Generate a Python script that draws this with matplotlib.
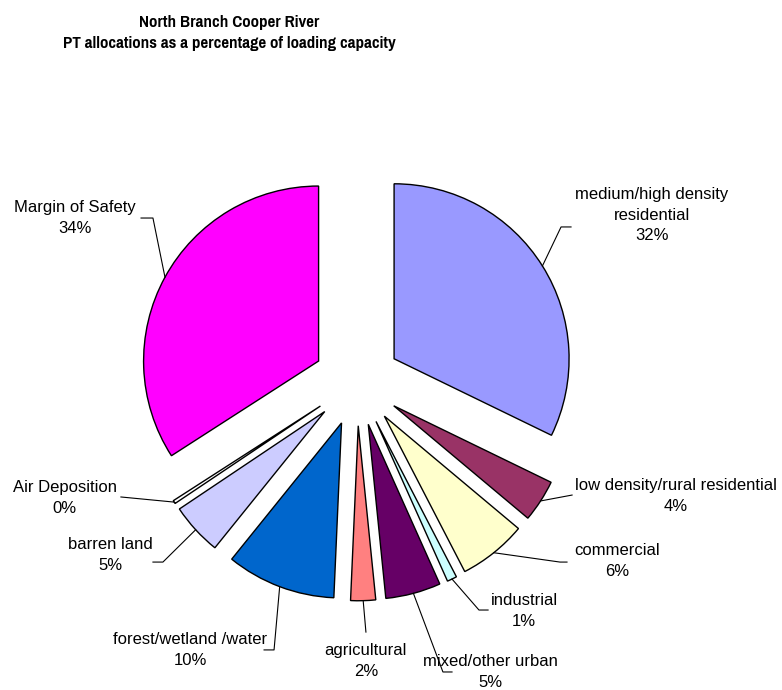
import numpy as np
from matplotlib import pyplot as plt

# PT allocations (% of loading capacity), clockwise from 12 o'clock
sources = ['medium/high density\nresidential', 'low density/rural residential',
           'commercial', 'industrial', 'mixed/other urban', 'agricultural',
           'forest/wetland /water', 'barren land', 'Air Deposition',
           'Margin of Safety']
percents = [32.2, 3.9, 6.3, 0.9, 5.1, 2.3, 10.1, 4.8, 0.3, 34.1]
colors = ['#9999FF', '#993366', '#FFFFCC', '#CCFFFF', '#660066', '#FF8080',
          '#0066CC', '#CCCCFF', '#FFFFFF', '#FF00FF']

# label placement (text centre, elbow, end of leader) in pie-radius units
text_pos = [(1.686, 0.954), (1.823, -0.651), (1.486, -1.023), (0.954, -1.309),
            (0.76, -1.657), (0.051, -1.594), (-0.954, -1.531), (-1.411, -0.989),
            (-1.669, -0.663), (-1.611, 0.937)]
elbow = [(1.166, 0.886), None, (1.16, -1.029), (0.697, -1.303), (0.491, -1.657),
         None, (-0.474, -1.531), (-1.109, -1.029), None, (-1.166, 0.937)]
leader_end = [(1.223, 0.886), (1.229, -0.646), (1.2, -1.029), (0.749, -1.303),
              (0.543, -1.657), (0.051, -1.429), (-0.531, -1.531), (-1.166, -1.029),
              (-1.349, -0.657), (-1.234, 0.937)]

plt.rcParams['font.family'] = ['Liberation Sans', 'DejaVu Sans']

fig = plt.figure(figsize=(7.82, 6.9), dpi=100)
ax = fig.add_axes([0, 0, 1, 1])
explode = [0.25] * len(percents)
wedges, _ = ax.pie(percents, colors=colors, explode=explode, startangle=90,
                   counterclock=False, radius=1.0,
                   wedgeprops=dict(edgecolor='black', linewidth=1.0))

for k, w in enumerate(wedges):
    mid = np.deg2rad((w.theta1 + w.theta2) / 2.0)
    cx, cy = w.center
    start = (cx + np.cos(mid), cy + np.sin(mid))
    pts = [start]
    if elbow[k] is not None:
        pts.append(elbow[k])
    pts.append(leader_end[k])
    xs, ys = zip(*pts)
    ax.plot(xs, ys, color='black', linewidth=0.8)
    ax.text(text_pos[k][0], text_pos[k][1],
            '%s\n%d%%' % (sources[k], round(percents[k])),
            ha='center', va='center', fontsize=12, linespacing=1.45)

ax.set_xlim(-357 / 175.0, 425 / 175.0)
ax.set_ylim(-308 / 175.0, 382 / 175.0)
ax.set_aspect('auto')
ax.axis('off')

fig.text(229 / 782.0, 1 - 33 / 690.0,
         'North Branch Cooper River\nPT allocations as a percentage of loading capacity',
         ha='center', va='center', fontsize=13.3, fontweight='bold',
         family=['Pragati Narrow', 'Liberation Sans'], linespacing=1.45)

plt.savefig('out.png', dpi=100)
